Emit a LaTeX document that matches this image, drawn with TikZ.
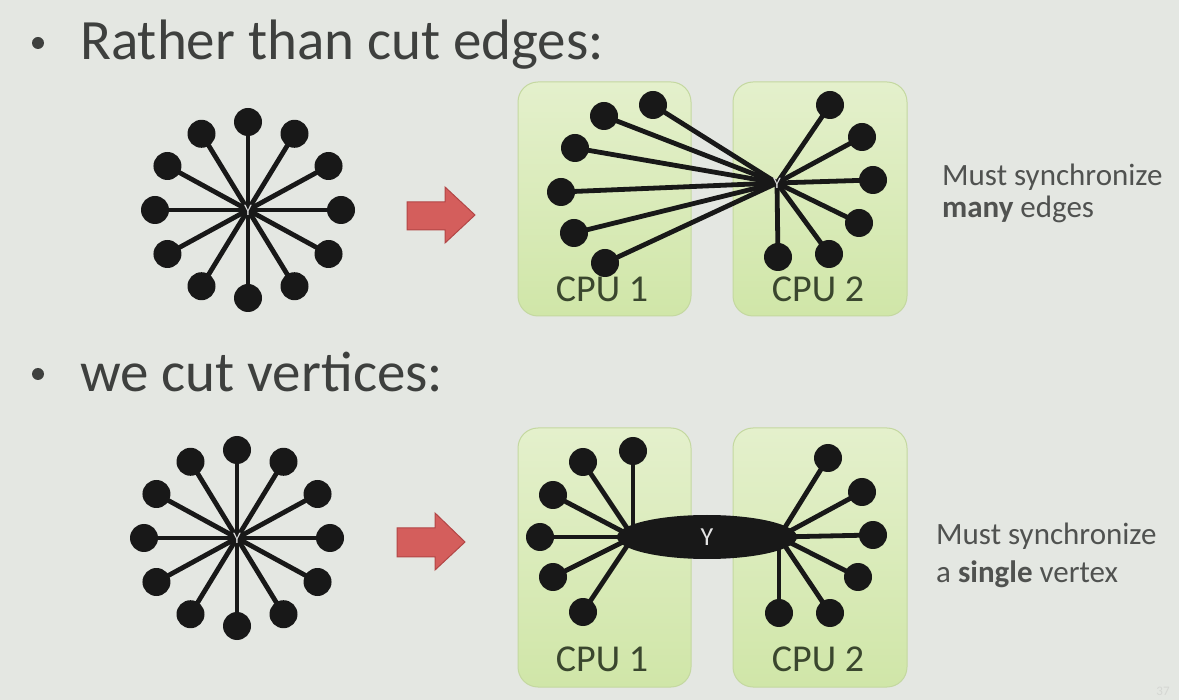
\documentclass[tikz,border=0pt]{standalone}
\usepackage{fontspec}
\setmainfont{Carlito}
\usetikzlibrary{shapes.geometric,calc}
\definecolor{bgc}{RGB}{228,231,226}
\definecolor{txt}{RGB}{62,64,62}
\definecolor{sidetxt}{RGB}{80,82,80}
\definecolor{dotc}{RGB}{24,24,24}
\definecolor{boxtop}{RGB}{228,240,204}
\definecolor{boxbot}{RGB}{208,230,168}
\definecolor{boxline}{RGB}{196,216,160}
\definecolor{cputxt}{RGB}{58,70,46}
\definecolor{arrfill}{RGB}{212,94,92}
\definecolor{arrline}{RGB}{178,70,70}
\tikzset{
  vdot/.style={circle, fill=dotc, inner sep=0pt, minimum size=28pt},
  spoke/.style={draw=dotc, line width=4.8pt},
  cpubox/.style={rounded corners=20pt, top color=boxtop, bottom color=boxbot, draw=boxline, line width=1pt},
  cpulabel/.style={text=cputxt, font=\fontsize{38}{40}\selectfont, inner sep=0pt},
  hublabel/.style={text=white!80!gray, font=\fontsize{16}{16}\selectfont, inner sep=0pt},
  bigarrow/.style={fill=arrfill, draw=arrline, line width=1pt, line join=miter},
  title/.style={text=txt, font=\fontsize{57}{60}\selectfont, anchor=base west, inner sep=0pt},
  sidenote/.style={text=sidetxt, font=\fontsize{31}{33}\selectfont, anchor=base west, inner sep=0pt},
  bulletdot/.style={circle, fill=txt, inner sep=0pt, minimum size=12pt}
}
\begin{document}
\begin{tikzpicture}[x=1pt,y=-1pt]
\fill[bgc] (0,0) rectangle (1179,700);
\useasboundingbox (0,0) rectangle (1179,700);

% titles
\node[bulletdot] (b1) at (38,43) {};
\node[title] (t1) at (80,60) {Rather than cut edges:};
\node[bulletdot] (b2) at (38,374) {};
\node[title] (t2) at (80,392) {we cut vertices:};

% star 1
\coordinate (h1) at (248,210);
\foreach \a in {0,30,...,330}{
  \node[vdot] (s1-\a) at ($(h1)+({93*cos(\a)},{88*sin(\a)})$) {};
  \draw[spoke] (h1) -- (s1-\a.center);
}
\node[hublabel] (y1) at (h1) {Y};

% star 2
\coordinate (h2) at (237,538);
\foreach \a in {0,30,...,330}{
  \node[vdot] (s2-\a) at ($(h2)+({93*cos(\a)},{88*sin(\a)})$) {};
  \draw[spoke] (h2) -- (s2-\a.center);
}
\node[hublabel] (y2) at (h2) {Y};

% arrows
\draw[bigarrow] (407,202) -- (445,202) -- (445,187) -- (475,215) -- (445,243) -- (445,230) -- (407,230) -- cycle;
\draw[bigarrow] (397,528) -- (435,528) -- (435,513) -- (465,542) -- (435,570) -- (435,557) -- (397,557) -- cycle;

% top boxes
\draw[cpubox] (518,82) rectangle (691,316);
\draw[cpubox] (733,82) rectangle (907,316);
\node[cpulabel] (c1a) at (602,289) {CPU 1};
\node[cpulabel] (c2a) at (818,289) {CPU 2};

\coordinate (h3) at (777,183);
\foreach \n/\x/\y in {a/653/105, b/604/116, c/575/148, d/561/192, e/574/233, f/605/263,
                      g/830/105, h/862/137, i/873/180, j/859/223, k/829/254, l/778/257}{
  \node[vdot] (s3-\n) at (\x,\y) {};
  \draw[spoke] (h3) -- (s3-\n.center);
}
\node[hublabel] (y3) at (h3) {Y};

% bottom boxes
\draw[cpubox] (518,428) rectangle (691,687);
\draw[cpubox] (733,428) rectangle (907,687);
\node[cpulabel] (c1b) at (602,659) {CPU 1};
\node[cpulabel] (c2b) at (818,659) {CPU 2};

\coordinate (hl) at (633,537);
\coordinate (hr) at (779,537);
\foreach \n/\x/\y in {a/633/451, b/583/462, c/553/495, d/540/537, e/553/577, f/583/612}{
  \node[vdot] (s4-\n) at (\x,\y) {};
  \draw[spoke] (hl) -- (s4-\n.center);
}
\foreach \n/\x/\y in {a/828/458, b/862/492, c/873/535, d/858/577, e/830/613, f/779/613}{
  \node[vdot] (s5-\n) at (\x,\y) {};
  \draw[spoke] (hr) -- (s5-\n.center);
}
\node[ellipse, fill=dotc, minimum width=180pt, minimum height=44pt, inner sep=0pt,
      text=white!80!gray, font=\fontsize{26}{26}\selectfont] (yc) at (707,537) {Y};

% side notes
\node[sidenote] (n1) at (942,186) {Must synchronize};
\node[sidenote] (n2) at (942,218) {\textbf{many} edges};
\node[sidenote] (n3) at (936,545) {Must synchronize};
\node[sidenote] (n4) at (936,582) {a \textbf{single} vertex};

\node[text=bgc!85!gray, font=\fontsize{13}{13}\selectfont, inner sep=0pt] (pg) at (1163,691) {37};
\end{tikzpicture}
\end{document}
